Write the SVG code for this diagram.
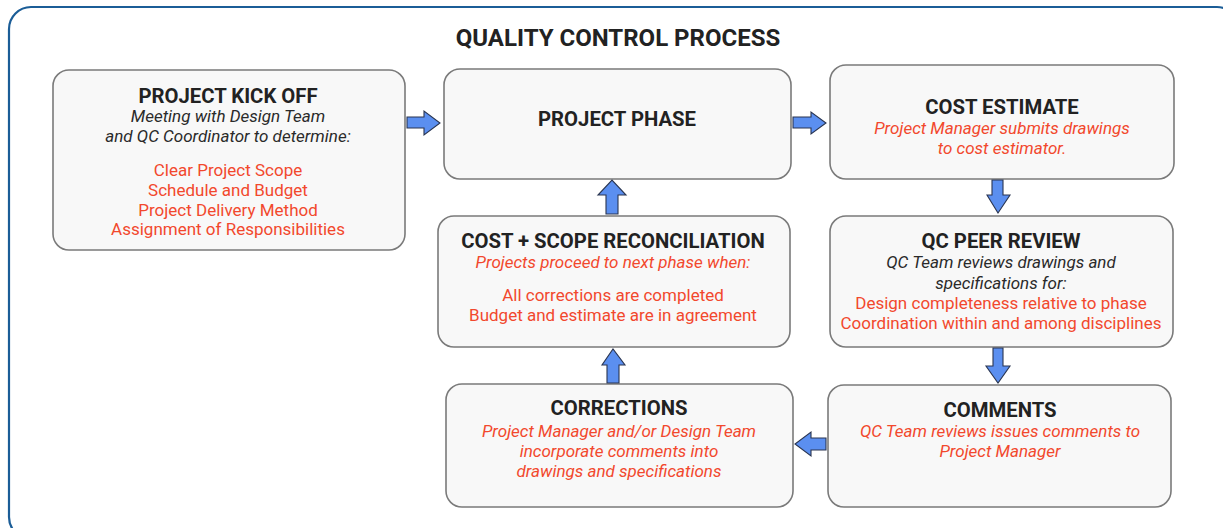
<svg xmlns="http://www.w3.org/2000/svg" width="1223" height="528" viewBox="0 0 1223 528">
  <style>
    .frame { fill: #ffffff; stroke: #1b5d97; stroke-width: 2.2; }
    .box { fill: #f8f8f8; stroke: #7a7a7a; stroke-width: 1.6; }
    text { font-family: Roboto, "Liberation Sans", sans-serif; text-anchor: middle; }
    .title { font-size: 24px; font-weight: bold; fill: #222222; }
    .head { font-size: 20.3px; font-weight: bold; fill: #222222; }
    .note { font-size: 17px; font-style: italic; fill: #2a2a2a; }
    .rednote { font-size: 17px; font-style: italic; fill: #f2482d; }
    .red { font-size: 17px; fill: #f2482d; }
    .arrow { fill: #5b8ff0; stroke: #2a3550; stroke-width: 1.1; stroke-linejoin: miter; }
  </style>

  <rect width="1223" height="528" fill="#ffffff"/>
  <!-- outer frame -->
  <rect class="frame" x="9" y="7" width="1230" height="532" rx="22"/>

  <text class="title" x="618" y="46">QUALITY CONTROL PROCESS</text>

  <g id="kickoff">
    <rect class="box" x="53" y="70" width="352" height="180" rx="16"/>
    <text class="head" x="228" y="103">PROJECT KICK OFF</text>
    <text class="note" x="228" y="122">Meeting with Design Team</text>
    <text class="note" x="228" y="142">and QC Coordinator to determine:</text>
    <text class="red" x="228" y="176">Clear Project Scope</text>
    <text class="red" x="228" y="196">Schedule and Budget</text>
    <text class="red" x="228" y="216">Project Delivery Method</text>
    <text class="red" x="228" y="235">Assignment of Responsibilities</text>
  </g>

  <g id="project-phase">
    <rect class="box" x="444" y="69" width="347" height="110" rx="16"/>
    <text class="head" x="617" y="126">PROJECT PHASE</text>
  </g>

  <g id="cost-estimate">
    <rect class="box" x="830" y="65" width="344" height="114" rx="16"/>
    <text class="head" x="1002" y="114">COST ESTIMATE</text>
    <text class="rednote" x="1002" y="134">Project Manager submits drawings</text>
    <text class="rednote" x="1002" y="154">to cost estimator.</text>
  </g>

  <g id="qc-peer-review">
    <rect class="box" x="830" y="216" width="343" height="131" rx="16"/>
    <text class="head" x="1001" y="248">QC PEER REVIEW</text>
    <text class="note" x="1001" y="268">QC Team reviews drawings and</text>
    <text class="note" x="1001" y="289">specifications for:</text>
    <text class="red" x="1001" y="309">Design completeness relative to phase</text>
    <text class="red" x="1001" y="329">Coordination within and among disciplines</text>
  </g>

  <g id="cost-scope-reconciliation">
    <rect class="box" x="438" y="216" width="352" height="131" rx="16"/>
    <text class="head" x="613" y="248">COST + SCOPE RECONCILIATION</text>
    <text class="rednote" x="613" y="268">Projects proceed to next phase when:</text>
    <text class="red" x="613" y="301">All corrections are completed</text>
    <text class="red" x="613" y="321">Budget and estimate are in agreement</text>
  </g>

  <g id="corrections">
    <rect class="box" x="446" y="384" width="347" height="123" rx="16"/>
    <text class="head" x="619" y="415">CORRECTIONS</text>
    <text class="rednote" x="619" y="437">Project Manager and/or Design Team</text>
    <text class="rednote" x="619" y="457">incorporate comments into</text>
    <text class="rednote" x="619" y="477">drawings and specifications</text>
  </g>

  <g id="comments">
    <rect class="box" x="828" y="385" width="343" height="122" rx="16"/>
    <text class="head" x="1000" y="417">COMMENTS</text>
    <text class="rednote" x="1000" y="437">QC Team reviews issues comments to</text>
    <text class="rednote" x="1000" y="457">Project Manager</text>
  </g>

  <!-- block arrows between steps -->
  <g id="connectors">
    <!-- kick off -> project phase -->
    <path class="arrow" d="M407,117 L424,117 L424,111 L440,123 L424,135 L424,128 L407,128 Z"/>
    <!-- project phase -> cost estimate -->
    <path class="arrow" d="M793,117 L811,117 L811,112 L826,123 L811,134 L811,128 L793,128 Z"/>
    <!-- cost estimate -> qc peer review -->
    <path class="arrow" d="M992,180 L1003,180 L1003,195 L1010,195 L998,213 L987,195 L992,195 Z"/>
    <!-- qc peer review -> comments -->
    <path class="arrow" d="M993,348 L1003,348 L1003,366 L1010,366 L998,383 L986,366 L993,366 Z"/>
    <!-- comments -> corrections -->
    <path class="arrow" d="M826,438 L811,438 L811,432 L795,444 L811,456 L811,450 L826,450 Z"/>
    <!-- corrections -> cost + scope reconciliation -->
    <path class="arrow" d="M607,383 L607,365 L602,365 L613,349 L625,365 L619,365 L619,383 Z"/>
    <!-- cost + scope reconciliation -> project phase -->
    <path class="arrow" d="M606,214 L606,195 L598,195 L612,180 L626,195 L618,195 L618,214 Z"/>
  </g>
</svg>
